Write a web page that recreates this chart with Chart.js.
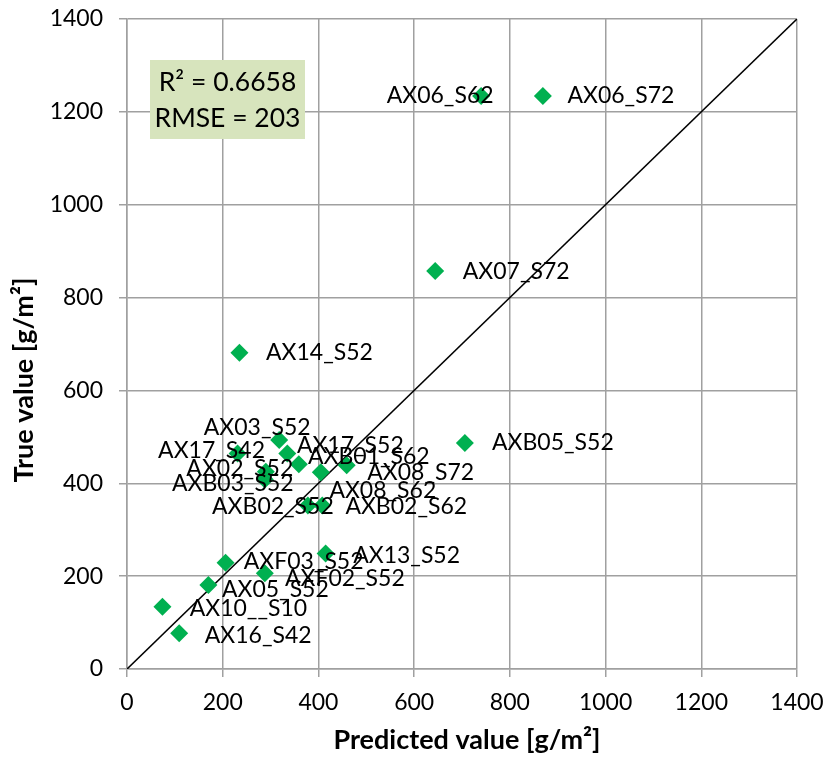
<!DOCTYPE html>
<html>
<head>
<meta charset="utf-8">
<script src="https://cdn.jsdelivr.net/npm/chart.js@4.4.1/dist/chart.umd.min.js"></script>
<style>
  html, body { margin: 0; padding: 0; background: #ffffff; }
  #wrap { width: 829px; height: 765px; }
</style>
</head>
<body>
<div id="wrap"><canvas id="scatterChart" width="829" height="765"></canvas></div>
<script>
// samples: predicted vs. true biomass
const sampleNames = [
    'AX06_S62', 'AX06_S72', 'AX07_S72', 'AX14_S52', 'AXB05_S52',
    'AX03_S52', 'AX17_S42', 'AX17_S52', 'AXB01_S62', 'AX02_S52',
    'AXB03_S52', 'AX08_S72', 'AX08_S62', 'AXB02_S52', 'AXB02_S62',
    'AX10__S10', 'AX16_S42', 'AX05_S52', 'AXF03_S52', 'AXF02_S52', 'AX13_S52'
];
const predictedValues = [740, 869, 644, 235, 706, 318, 231, 335, 359, 290, 288, 459, 405, 378, 408, 74, 109, 170, 206, 288, 415];
const trueValues = [1234, 1234, 857, 681, 487, 493, 464, 464, 441, 425, 408, 439, 424, 352, 352, 134, 77, 181, 229, 206, 249];

const axisTicks = [0, 200, 400, 600, 800, 1000, 1200, 1400];
const identityLine = [0, 1400];
const statsLines = ['R\u00B2 = 0.6658', 'RMSE = 203'];

// label placement around each marker (dx, dy of the text centre in px)
const labelOffsets = [
    [-41, 0], [78, 0], [81, 0], [80, 0], [88, 0],
    [-22, -13], [-26, -3], [63, -8], [70, -8], [-26, -3],
    [-32, 4], [74, 7], [62, 18], [-35, 1], [84, 1],
    [86, 2], [79, 2], [67, 5], [78, -1], [80, 5], [81, 2]
];

const FONT = 'Lato, "Open Sans", sans-serif';
const GRID = '#a0a0a0';

const points = predictedValues.map((x, i) => ({ x: x, y: trueValues[i] }));

const pointLabels = {
    id: 'pointLabels',
    afterDatasetsDraw(chart) {
        const ctx = chart.ctx;
        const meta = chart.getDatasetMeta(0);
        ctx.save();
        ctx.font = '23px ' + FONT;
        ctx.fillStyle = '#000';
        ctx.textAlign = 'center';
        ctx.textBaseline = 'middle';
        meta.data.forEach((pt, i) => {
            const off = labelOffsets[i];
            ctx.fillText(sampleNames[i], pt.x + off[0], pt.y + off[1]);
        });
        ctx.restore();
    }
};

const statsBox = {
    id: 'statsBox',
    afterDraw(chart) {
        const ctx = chart.ctx;
        const a = chart.chartArea;
        const x = a.left + 23, y = a.top + 41, w = 155, h = 79;
        ctx.save();
        ctx.fillStyle = '#d7e4bd';
        ctx.fillRect(x, y, w, h);
        ctx.font = '26.5px ' + FONT;
        ctx.fillStyle = '#000';
        ctx.textAlign = 'center';
        ctx.textBaseline = 'middle';
        ctx.fillText(statsLines[0], x + w / 2, y + 22);
        ctx.fillText(statsLines[1], x + w / 2, y + 58);
        ctx.restore();
    }
};

const axisTitles = {
    id: 'axisTitles',
    afterDraw(chart) {
        const ctx = chart.ctx;
        const a = chart.chartArea;
        ctx.save();
        ctx.font = 'bold 27px ' + FONT;
        ctx.fillStyle = '#000';
        ctx.textAlign = 'center';
        ctx.textBaseline = 'middle';
        ctx.fillText('Predicted value [g/m\u00B2]', (a.left + a.right) / 2 + 5, 740);
        ctx.translate(24, 380);
        ctx.rotate(-Math.PI / 2);
        ctx.fillText('True value [g/m\u00B2]', 0, 0);
        ctx.restore();
    }
};

const axisOptions = {
    type: 'linear',
    min: 0,
    max: 1400,
    afterBuildTicks: (scale) => {
        scale.ticks = axisTicks.map(v => ({ value: v }));
    },
    grid: {
        color: GRID,
        lineWidth: 1.5,
        tickLength: 8,
        tickColor: GRID
    },
    border: {
        color: GRID,
        width: 1.5
    },
    ticks: {
        color: '#000',
        font: { family: FONT, size: 23 },
        callback: (value) => String(value)
    }
};

new Chart(document.getElementById('scatterChart').getContext('2d'), {
    type: 'scatter',
    data: {
        datasets: [
            {
                label: 'Samples',
                data: points,
                pointStyle: 'rectRot',
                pointRadius: 9,
                pointBackgroundColor: '#00b050',
                pointBorderColor: '#00b050',
                pointBorderWidth: 0
            },
            {
                label: '1:1',
                type: 'line',
                data: identityLine.map(v => ({ x: v, y: v })),
                borderColor: '#000',
                borderWidth: 1.6,
                pointRadius: 0,
                fill: false
            }
        ]
    },
    options: {
        responsive: false,
        animation: false,
        layout: {
            padding: { top: 19, right: 32, bottom: 0, left: 0 }
        },
        plugins: {
            legend: { display: false },
            tooltip: { enabled: false }
        },
        scales: {
            x: {
                ...axisOptions,
                position: 'bottom',
                ticks: { ...axisOptions.ticks, padding: 12 },
                afterFit: (scale) => {
                    scale.height = 96;
                    scale.paddingLeft = 0;
                    scale.paddingRight = 0;
                }
            },
            y: {
                ...axisOptions,
                position: 'left',
                ticks: { ...axisOptions.ticks, padding: 16 },
                afterFit: (scale) => {
                    scale.width = 127;
                    scale.paddingTop = 0;
                    scale.paddingBottom = 0;
                }
            }
        }
    },
    plugins: [pointLabels, statsBox, axisTitles]
});
</script>
</body>
</html>
